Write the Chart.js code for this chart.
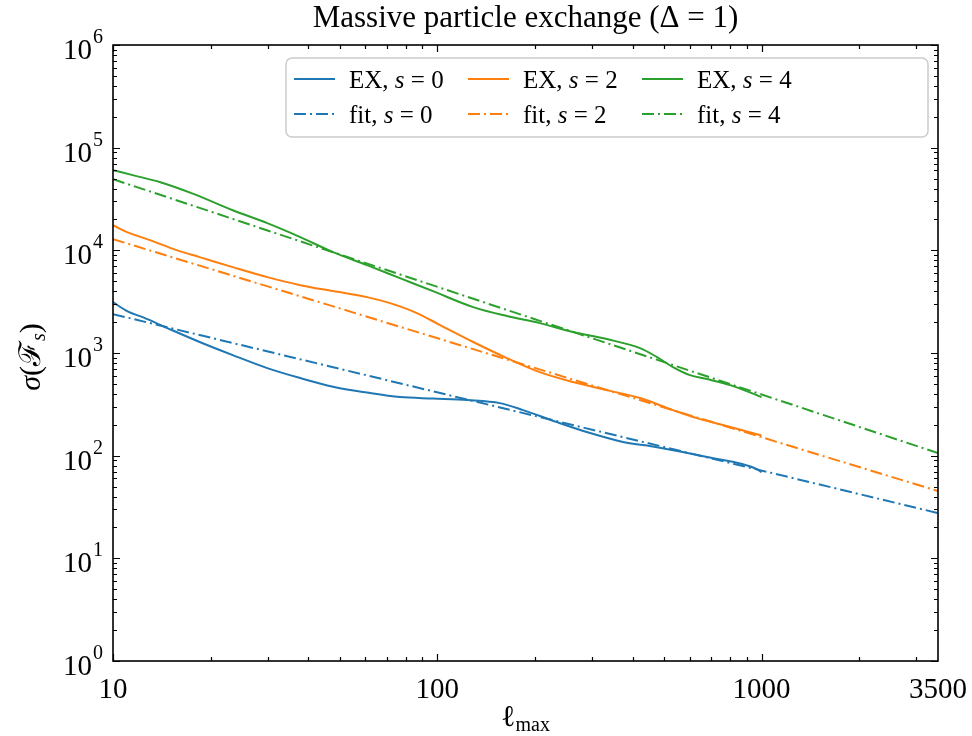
<!DOCTYPE html>
<html>
<head>
<meta charset="utf-8">
<script src="https://cdn.jsdelivr.net/npm/chart.js@4.4.1/dist/chart.umd.min.js"></script>
<style>
    body { margin: 0; background: #fff; }
    #wrap { width: 972px; height: 736px; }
</style>
</head>
<body>
<div id="wrap"><canvas id="sigmaChart" width="972" height="736"></canvas></div>
<script>
const chartTitle = 'Massive particle exchange (\u0394 = 1)';
const xTickLabels = [10, 100, 1000, 3500];
const yTickExponents = [0, 1, 2, 3, 4, 5, 6];
const spins = [0, 2, 4];
const colors = ['#1f77b4', '#ff7f0e', '#2ca02c'];

// EX curves
const exX0 = [10, 11.05, 12.4, 14.7, 18.5, 23.4, 29.9, 37.8, 47.7, 60.7, 76.7, 97, 124, 156, 184, 234, 296, 374, 476, 679, 968, 1000];
const exY0 = [3130, 2560, 2220, 1750, 1280, 954, 713, 570, 470, 412, 372, 360, 348, 325, 278, 212, 166, 136, 121, 97, 74, 69];

const exX2 = [10, 11.05, 13.0, 15.7, 18.5, 23.4, 29.9, 37.8, 47.7, 60.7, 71.5, 86.5, 102, 129, 164, 207, 262, 333, 422, 533, 632, 760, 1000];
const exY2 = [17600, 15040, 12570, 10040, 8590, 6860, 5480, 4580, 4010, 3500, 3060, 2450, 1870, 1280, 892, 651, 521, 435, 364, 278, 232, 199, 157];

const exX4 = [10, 11.5, 14.0, 17.7, 23.4, 29.9, 37.8, 47.7, 60.7, 76.7, 97, 129, 164, 207, 262, 333, 422, 476, 533, 601, 679, 800, 1000];
const exY4 = [60400, 54000, 46100, 35500, 24600, 18400, 13450, 9600, 7180, 5360, 4000, 2800, 2290, 1955, 1600, 1366, 1116, 912, 729, 609, 557, 487, 372];

// power-law fits (straight on log-log), end points
const fitX = [10, 3500];
const fitY0 = [2390, 27.6];
const fitY2 = [12850, 45.2];
const fitY4 = [49350, 106];

const serif = '"Liberation Serif", "DejaVu Serif", serif';

function toPoints(xs, ys) {
    return xs.map((x, i) => ({ x: x, y: ys[i] }));
}

const exSeries = [[exX0, exY0], [exX2, exY2], [exX4, exY4]];
const fitSeries = [fitY0, fitY2, fitY4];

const datasets = [];
spins.forEach((s, i) => {
    datasets.push({
        label: 'EX, s = ' + s,
        kind: 'EX',
        spin: s,
        data: toPoints(exSeries[i][0], exSeries[i][1]),
        borderColor: colors[i],
        borderWidth: 2,
        cubicInterpolationMode: 'monotone',
        fill: false
    });
    datasets.push({
        label: 'fit, s = ' + s,
        kind: 'fit',
        spin: s,
        data: toPoints(fitX, fitSeries[i]),
        borderColor: colors[i],
        borderWidth: 2,
        borderDash: [12, 4, 2, 4],
        fill: false
    });
});

function drawRuns(ctx, runs, x, y, align) {
    let total = 0;
    runs.forEach(r => { ctx.font = r.font; total += ctx.measureText(r.text).width; });
    let cx = align === 'center' ? x - total / 2 : (align === 'right' ? x - total : x);
    ctx.textAlign = 'left';
    ctx.textBaseline = 'alphabetic';
    runs.forEach(r => {
        ctx.font = r.font;
        ctx.fillText(r.text, cx, y + (r.dy || 0));
        cx += ctx.measureText(r.text).width;
    });
}

const decorPlugin = {
    id: 'decor',
    afterDraw(chart) {
        const { ctx, chartArea: a, scales: { x, y } } = chart;
        ctx.save();
        ctx.fillStyle = '#000';
        ctx.strokeStyle = '#000';

        // minor/major ticks, pointing inward on all four sides
        ctx.lineWidth = 1.2;
        for (let k = 1; k <= 3; k++) {
            for (let m = 1; m <= 9; m++) {
                const v = m * Math.pow(10, k);
                if (v < 10 || v > 3500) continue;
                const px = Math.round(x.getPixelForValue(v)) + 0.5;
                const len = m === 1 ? 7 : 4;
                ctx.beginPath();
                ctx.moveTo(px, a.bottom); ctx.lineTo(px, a.bottom - len);
                ctx.moveTo(px, a.top); ctx.lineTo(px, a.top + len);
                ctx.stroke();
            }
        }
        for (let k = 0; k <= 6; k++) {
            for (let m = 1; m <= 9; m++) {
                const v = m * Math.pow(10, k);
                if (v > 1e6) continue;
                const py = Math.round(y.getPixelForValue(v)) + 0.5;
                const len = m === 1 ? 7 : 4;
                ctx.beginPath();
                ctx.moveTo(a.left, py); ctx.lineTo(a.left + len, py);
                ctx.moveTo(a.right, py); ctx.lineTo(a.right - len, py);
                ctx.stroke();
            }
        }

        // frame
        ctx.lineWidth = 1.6;
        ctx.strokeRect(a.left, a.top, a.right - a.left, a.bottom - a.top);

        // x tick labels
        ctx.font = '29px ' + serif;
        ctx.textAlign = 'center';
        ctx.textBaseline = 'alphabetic';
        xTickLabels.forEach(v => {
            ctx.fillText(String(v), x.getPixelForValue(v), a.bottom + 37);
        });

        // y tick labels 10^n
        yTickExponents.forEach(e => {
            const py = y.getPixelForValue(Math.pow(10, e));
            ctx.font = '29px ' + serif;
            ctx.textAlign = 'right';
            ctx.fillText('10', a.left - 21, py + 14);
            ctx.font = '20px ' + serif;
            ctx.textAlign = 'left';
            ctx.fillText(String(e), a.left - 20, py - 2);
        });

        // title
        drawRuns(ctx, [{ text: chartTitle, font: '31px ' + serif }], (a.left + a.right) / 2, 27, 'center');

        // x axis title
        drawRuns(ctx, [
            { text: '\u2113', font: '30px ' + serif },
            { text: 'max', font: '20px ' + serif, dy: 5 }
        ], (a.left + a.right) / 2, 726, 'center');

        // y axis title
        ctx.save();
        ctx.translate(40, 357);
        ctx.rotate(-Math.PI / 2);
        drawRuns(ctx, [
            { text: '\u03c3', font: 'italic 30px ' + serif },
            { text: '(', font: '30px ' + serif },
            { text: '\u2131', font: '30px ' + serif },
            { text: 's', font: 'italic 20px ' + serif, dy: 5 },
            { text: ')', font: '30px ' + serif }
        ], 0, 0, 'center');
        ctx.restore();

        // legend box
        const bx = 286, by = 58, bw = 642, bh = 79;
        ctx.beginPath();
        ctx.roundRect(bx, by, bw, bh, 6);
        ctx.fillStyle = 'rgba(255,255,255,0.8)';
        ctx.fill();
        ctx.strokeStyle = '#cccccc';
        ctx.lineWidth = 1.5;
        ctx.stroke();

        const colX = [294, 468, 642];
        const rowY = { EX: 79, fit: 114 };
        chart.data.datasets.forEach(ds => {
            const col = spins.indexOf(ds.spin);
            const lx = colX[col];
            const ly = rowY[ds.kind];
            ctx.strokeStyle = ds.borderColor;
            ctx.lineWidth = 2;
            ctx.setLineDash(ds.borderDash || []);
            ctx.beginPath();
            ctx.moveTo(lx, ly); ctx.lineTo(lx + 41, ly);
            ctx.stroke();
            ctx.setLineDash([]);
            ctx.fillStyle = '#000';
            drawRuns(ctx, [
                { text: ds.kind + ', ', font: '25px ' + serif },
                { text: 's', font: 'italic 25px ' + serif },
                { text: ' = ' + ds.spin, font: '25px ' + serif }
            ], lx + 55, ly + 9, 'left');
        });

        ctx.restore();
    }
};

const chart = new Chart(document.getElementById('sigmaChart').getContext('2d'), {
    type: 'line',
    data: { datasets: datasets },
    options: {
        responsive: false,
        devicePixelRatio: 1,
        animation: false,
        layout: { padding: { left: 113, right: 34, top: 45, bottom: 75 } },
        elements: { point: { radius: 0 } },
        scales: {
            x: { type: 'logarithmic', min: 10, max: 3500, display: false },
            y: { type: 'logarithmic', min: 1, max: 1e6, display: false }
        },
        plugins: {
            legend: { display: false },
            tooltip: { enabled: false }
        }
    },
    plugins: [decorPlugin]
});
</script>
</body>
</html>
